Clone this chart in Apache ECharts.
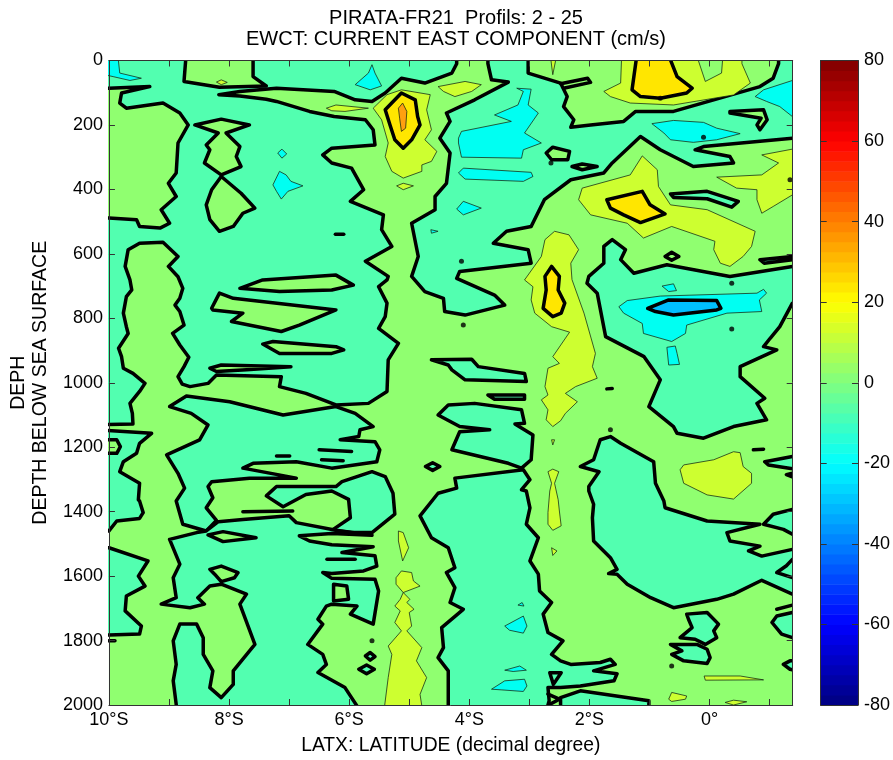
<!DOCTYPE html>
<html><head><meta charset="utf-8">
<style>html,body{margin:0;padding:0;background:#fff}#c{width:893px;height:760px}</style>
<script src="https://cdn.jsdelivr.net/npm/echarts@6/dist/echarts.min.js"></script>
</head><body><div id="c"></div>
<script>
// Latitude (deg, negative = S) and depth (m).
const latTicks = [-10,-8,-6,-4,-2,0];
const depthTicks = [0,200,400,600,800,1000,1200,1400,1600,1800,2000];
const colorbarTicks = [-80,-60,-40,-20,0,20,40,60,80];

// -10..0 cm/s band, outlined by the 0 contour
const band_m10_0 = [
[[-10.2,-30],[-4.21,-30],[-4.21,10],[-4.29,39],[-4.74,70],[-5.13,55],[-5.40,101],[-5.62,127],[-5.90,122],[-6.25,96],[-7.21,86],[-7.82,96],[-8.17,106],[-7.82,110],[-7.38,120],[-7.21,127],[-6.66,158],[-6.25,174],[-5.73,184],[-5.60,215],[-5.57,262],[-6.29,272],[-6.44,293],[-6.29,318],[-5.96,334],[-5.76,401],[-5.98,437],[-5.43,479],[-5.46,525],[-5.29,577],[-5.73,623],[-5.35,670],[-5.37,681],[-5.51,702],[-5.37,753],[-5.40,795],[-5.51,831],[-5.18,878],[-5.35,929],[-5.37,1027],[-5.68,1064],[-6.22,1069],[-6.72,1033],[-7.16,1012],[-7.13,981],[-8.21,976],[-8.35,1002],[-8.65,1012],[-8.78,1004],[-8.85,981],[-8.75,950],[-8.67,921],[-8.82,883],[-8.94,847],[-8.75,821],[-8.82,779],[-8.90,759],[-8.82,738],[-8.77,707],[-8.85,671],[-9.01,639],[-8.85,608],[-9.10,564],[-9.49,567],[-9.68,587],[-9.73,639],[-9.65,681],[-9.62,712],[-9.71,733],[-9.76,784],[-9.71,826],[-9.68,847],[-9.84,893],[-9.79,919],[-9.76,955],[-9.60,971],[-9.40,1002],[-9.49,1027],[-9.65,1064],[-9.61,1095],[-9.60,1128],[-10.2,1130]],
[[-8.71,1041],[-7.99,1059],[-7.10,1100],[-6.22,1074],[-5.90,1095],[-5.60,1136],[-5.82,1146],[-5.84,1167],[-6.15,1177],[-5.57,1183],[-5.49,1208],[-5.54,1245],[-6.29,1265],[-6.88,1245],[-7.60,1250],[-7.77,1265],[-6.88,1296],[-7.66,1296],[-8.29,1307],[-8.35,1322],[-8.27,1357],[-8.38,1388],[-8.21,1427],[-8.38,1460],[-8.77,1439],[-8.88,1367],[-8.74,1327],[-8.85,1281],[-9.04,1224],[-8.49,1177],[-8.35,1131],[-8.63,1095],[-8.99,1074]],
[[-6.12,1307],[-5.62,1276],[-5.40,1291],[-5.27,1343],[-5.24,1408],[-5.62,1465],[-5.96,1465],[-6.29,1458],[-5.98,1419],[-6.01,1362],[-6.29,1336],[-6.72,1347],[-7.10,1385],[-7.38,1351],[-7.21,1322],[-6.72,1322],[-6.22,1322]],
[[-8.99,1486],[-8.54,1465],[-8.38,1460],[-8.18,1431],[-7.77,1424],[-7.00,1413],[-6.88,1434],[-6.22,1458],[-5.62,1473],[-6.29,1468],[-6.83,1475],[-6.66,1491],[-6.29,1503],[-5.60,1509],[-6.12,1527],[-5.57,1537],[-5.54,1569],[-5.76,1584],[-6.29,1592],[-6.44,1589],[-6.29,1607],[-5.57,1610],[-5.51,1646],[-5.60,1749],[-5.98,1718],[-5.87,1693],[-6.29,1687],[-6.38,1693],[-6.52,1734],[-6.44,1749],[-6.69,1812],[-6.44,1843],[-6.38,1874],[-6.52,1899],[-6.22,1930],[-6.07,1946],[-5.87,2003],[-5.87,2030],[-8.88,2030],[-8.88,1998],[-8.93,1925],[-8.88,1874],[-8.93,1801],[-8.82,1749],[-8.54,1749],[-8.43,1791],[-8.43,1843],[-8.27,1894],[-8.32,1946],[-8.13,1977],[-7.93,1936],[-7.93,1894],[-7.57,1812],[-7.82,1687],[-7.71,1656],[-8.13,1625],[-8.32,1631],[-8.52,1667],[-8.41,1687],[-8.65,1698],[-9.13,1687],[-8.88,1667],[-8.93,1605],[-8.82,1563]],
[[-10.2,1146],[-9.29,1157],[-9.49,1188],[-9.54,1219],[-9.76,1245],[-9.82,1276],[-9.49,1312],[-9.51,1363],[-9.49,1367],[-9.43,1403],[-9.49,1421],[-9.87,1429],[-10,1460],[-10.2,1460]],
[[-10.2,1512],[-10,1512],[-9.35,1553],[-9.51,1600],[-9.40,1631],[-9.71,1662],[-9.73,1708],[-9.46,1755],[-9.49,1780],[-10,1783],[-10.2,1783]],
[[-10.2,232],[-9.76,238],[-10.2,245]],
[[-10.2,365],[-9.87,391],[-10.2,411]],
[[-3.69,-30],[-3.69,10],[-3.63,60],[-3.35,67],[-3.91,122],[-4.38,163],[-4.32,189],[-4.49,241],[-4.32,287],[-4.38,381],[-4.57,422],[-4.57,463],[-4.96,505],[-4.85,608],[-4.96,670],[-4.74,717],[-4.43,738],[-4.41,779],[-4.07,790],[-3.41,759],[-3.58,728],[-4.21,676],[-4.16,655],[-2.97,629],[-3.02,587],[-3.60,567],[-3.38,530],[-2.97,515],[-2.75,432],[-2.31,370],[-1.76,349],[-1.62,318],[-1.15,236],[-0.82,277],[-0.27,329],[0.40,318],[0.34,298],[-0.24,277],[-0.10,267],[1.38,241],[1.6,241],[1.6,-30],[1.15,-30],[1.15,10],[1.06,55],[0.84,81],[-0.60,158],[-1.23,158],[-1.43,189],[-1.98,200],[-2.31,207],[-2.26,184],[-2.43,143],[-2.37,112],[-2.48,70],[-3.02,39],[-3.02,-30]],
[[-2.01,670],[-1.76,629],[-1.76,577],[-1.62,556],[-1.40,587],[-1.48,618],[-1.26,660],[-0.71,634],[0.34,670],[1.38,639],[1.6,639],[1.6,750],[1.38,753],[1.17,826],[1.01,862],[0.90,888],[1.12,898],[0.51,950],[0.51,981],[0.92,1048],[0.79,1064],[0.95,1115],[0.40,1136],[-0.10,1172],[-0.54,1157],[-0.60,1136],[-1.01,1074],[-0.82,991],[-1.09,919],[-1.73,857],[-1.87,722],[-2.04,691]],
[[-1.65,1167],[-1.48,1188],[-0.93,1245],[-0.90,1312],[-0.76,1367],[-0.74,1388],[-0.04,1429],[0.84,1439],[0.29,1465],[0.34,1491],[0.84,1507],[0.65,1522],[0.87,1538],[1.38,1517],[1.6,1517],[1.6,1660],[1.38,1656],[0.87,1613],[0.40,1656],[0.12,1672],[-0.60,1698],[-0.98,1667],[-1.37,1625],[-1.54,1594],[-1.68,1592],[-1.54,1579],[-1.65,1543],[-1.93,1491],[-1.95,1419],[-1.93,1377],[-2.01,1336],[-2.01,1322],[-1.84,1276],[-2.15,1260],[-1.93,1239],[-1.82,1177]],
[[0.92,1245],[1.38,1229],[1.6,1229],[1.6,1267],[1.38,1267],[0.98,1255]],
[[1.28,1285],[1.6,1270],[1.6,1307]],
[[1.06,1408],[1.38,1393],[1.6,1393],[1.6,1470],[1.38,1470],[1.23,1455],[0.90,1439]],
[[1.12,1589],[1.28,1568],[1.38,1548],[1.6,1548],[1.6,1605],[1.38,1605],[1.20,1594]],
[[1.04,1744],[1.12,1724],[1.38,1713],[1.6,1713],[1.6,1791],[1.38,1791],[1.20,1780]],
[[1.23,1874],[1.34,1863],[1.6,1863],[1.6,1900],[1.34,1889]],
[[-4.63,929],[-3.96,927],[-3.85,950],[-3.08,971],[-3.05,996],[-4.07,991],[-4.29,960],[-4.35,945]],
[[-3.69,1038],[-3.08,1038],[-3.08,1051],[-3.58,1051]],
[[-4.52,1100],[-4.35,1069],[-3.91,1064],[-3.13,1084],[-3.08,1126],[-3.24,1128],[-2.94,1162],[-2.97,1239],[-3.13,1265],[-3.35,1250],[-4.29,1208],[-4.16,1152],[-3.66,1146],[-4.16,1136]],
[[-3.10,1270],[-4.24,1296],[-4.21,1327],[-4.52,1343],[-4.82,1413],[-4.63,1481],[-4.35,1512],[-4.24,1574],[-4.38,1589],[-4.24,1636],[-4.32,1682],[-4.10,1703],[-4.46,1760],[-4.43,1822],[-4.52,1853],[-4.35,1894],[-4.35,2003],[-4.35,2030],[-2.69,2030],[-2.69,2000],[-2.67,1987],[-2.69,1946],[-2.48,1946],[-2.15,1941],[-1.59,1925],[-1.54,1903],[-1.93,1894],[-1.57,1874],[-1.65,1858],[-1.82,1868],[-2.31,1874],[-2.48,1863],[-2.63,1843],[-2.44,1801],[-2.69,1775],[-2.77,1718],[-2.63,1682],[-2.83,1646],[-2.85,1594],[-2.99,1553],[-2.85,1481],[-3.05,1439],[-2.99,1388],[-3.05,1336],[-3.13,1332],[-2.99,1301]],
[[-2.48,1977],[-2.15,1956],[-1.01,1987],[-1.01,2030],[-2.48,2030]],
[[-0.38,1718],[-0.04,1713],[0.15,1749],[0.07,1770],[0.12,1791],[-0.07,1812],[-0.24,1796],[-0.49,1791],[-0.29,1760],[-0.35,1734]],
[[-0.65,1812],[-0.21,1812],[-0.04,1827],[0.01,1853],[-0.04,1871],[-0.43,1863],[-0.63,1843],[-0.46,1832]],
[[-0.65,414],[-0.04,406],[0.48,437],[0.37,455],[-0.04,429],[-0.60,425]],
[[0.84,618],[1.38,608],[1.38,618],[0.91,629]],
[[-4.73,1260],[-4.61,1248],[-4.49,1260],[-4.61,1272]],
[[-5.73,1848],[-5.65,1837],[-5.57,1850],[-5.65,1861]],
[[-5.84,1889],[-5.71,1876],[-5.58,1889],[-5.71,1903]]
];

// 0..10 cm/s islands surrounded by the -10..0 band
const band_0_10 = [
[[-8.71,-30],[-8.75,65],[-8.16,83],[-7.38,79],[-7.60,50],[-7.60,-30]],
[[-10.2,86],[-10,86],[-9.32,81],[-9.79,101],[-9.82,132],[-9.71,148],[-9.10,132],[-8.82,163],[-8.68,200],[-8.85,256],[-8.88,349],[-9.01,381],[-8.88,422],[-9.13,463],[-8.99,505],[-9.15,520],[-9.49,515],[-9.54,494],[-10,489],[-10.2,489]],
[[-8.57,200],[-8.13,182],[-7.66,200],[-8.05,225],[-7.82,267],[-7.88,298],[-7.80,329],[-8.13,355],[-8.41,318],[-8.32,277],[-8.38,262],[-8.18,225]],
[[-8.13,360],[-7.80,412],[-7.57,458],[-7.77,474],[-7.93,515],[-8.16,530],[-8.32,494],[-8.38,448],[-8.29,401]],
[[-7.82,707],[-7.44,681],[-6.22,666],[-5.93,697],[-6.29,712],[-7.16,717]],
[[-8.29,769],[-8.16,722],[-7.93,738],[-6.22,774],[-6.83,821],[-7.13,841],[-7.96,810],[-7.77,784],[-8.27,774]],
[[-7.44,880],[-7.27,872],[-6.22,888],[-6.09,898],[-6.29,909],[-7.16,909]],
[[-8.32,955],[-8.13,945],[-6.97,950],[-7.71,960],[-8.21,965]],
[[-8.32,1579],[-8.13,1569],[-7.85,1589],[-7.91,1605],[-8.13,1617],[-8.24,1594]],
[[-8.35,1472],[-8.10,1462],[-7.55,1481],[-8.10,1493]],
[[-6.26,1625],[-6.04,1631],[-6.01,1672],[-6.26,1677]],
[[-10.2,1177],[-9.87,1177],[-9.81,1198],[-9.87,1219],[-10.2,1219]],
[[-2.72,287],[-2.61,269],[-2.33,282],[-2.36,308],[-2.63,308]],
[[0.34,158],[0.90,153],[0.96,184],[0.84,215],[0.79,200],[0.86,179],[0.34,163]],
[[-2.29,329],[-2.12,321],[-1.87,329],[-2.12,339]],
[[-0.74,608],[-0.63,595],[-0.51,608],[-0.63,620]]
];
const band_10_20 = [
[[-5.60,148],[-5.37,106],[-5.13,91],[-4.65,106],[-4.71,153],[-4.63,215],[-4.74,246],[-4.54,282],[-4.63,313],[-4.79,324],[-4.79,344],[-5.10,365],[-5.29,344],[-5.40,298],[-5.35,256],[-5.46,184]],
[[-4.52,81],[-4.07,65],[-3.80,75],[-3.96,96],[-4.24,112],[-4.43,96]],
[[-5.21,389],[-5.10,381],[-4.93,389],[-5.10,401]],
[[-6.38,148],[-6.22,138],[-5.68,148],[-6.07,158],[-6.29,156]],
[[-8.21,67],[-8.13,60],[-8.03,68],[-8.13,75]],
[[-2.66,-30],[-2.61,44],[-2.53,-30]],
[[-1.76,96],[-1.48,70],[-1.46,-30],[-0.24,-30],[-0.07,65],[0.20,39],[0.23,-30],[0.54,-30],[0.54,10],[0.68,70],[0.40,107],[-0.60,138],[-1.32,132],[-1.65,112]],
[[-2.18,432],[-2.12,396],[-1.32,355],[-1.12,296],[-0.87,339],[-0.85,391],[-0.65,448],[-0.04,463],[0.76,530],[0.70,577],[0.56,608],[0.34,639],[0.18,629],[0.07,587],[0.09,561],[-0.63,515],[-1.10,551],[-1.37,505],[-1.98,479]],
[[0.12,362],[0.87,355],[1.15,318],[0.87,293],[1.38,275],[1.6,275],[1.6,417],[1.38,417],[1.06,453],[0.87,474],[0.79,432],[0.79,401],[0.45,396]],
[[-2.74,556],[-2.58,530],[-2.34,541],[-2.18,587],[-2.31,629],[-2.29,680],[-2.09,784],[-1.90,909],[-1.95,950],[-1.87,986],[-2.23,1012],[-2.40,1033],[-2.20,1059],[-2.40,1095],[-2.48,1118],[-2.61,1136],[-2.72,1115],[-2.69,1084],[-2.80,1053],[-2.69,1038],[-2.74,1012],[-2.69,955],[-2.50,940],[-2.61,919],[-2.33,843],[-2.63,826],[-2.91,784],[-2.97,743],[-2.94,702],[-3.08,681],[-2.80,608]],
[[-2.63,1177],[-2.58,1177],[-2.61,1193]],
[[-2.69,1276],[-2.61,1268],[-2.51,1276],[-2.58,1312],[-2.52,1363],[-2.50,1398],[-2.47,1444],[-2.61,1458],[-2.69,1439],[-2.69,1403],[-2.66,1336],[-2.63,1312]],
[[-2.63,1512],[-2.54,1522],[-2.61,1536]],
[[-5.18,1460],[-5.10,1465],[-5.01,1512],[-5.11,1553],[-5.18,1491]],
[[-5.22,1605],[-5.13,1584],[-4.96,1589],[-4.93,1615],[-4.82,1631],[-5.10,1651],[-4.99,1672],[-5.04,1682],[-4.92,1703],[-5.00,1713],[-4.96,1755],[-5.04,1770],[-4.79,1822],[-4.88,1863],[-4.71,1915],[-4.82,1967],[-4.79,2003],[-4.79,2030],[-5.41,2030],[-5.41,2003],[-5.35,1915],[-5.29,1843],[-5.35,1817],[-5.13,1770],[-5.24,1744],[-5.15,1708],[-5.24,1693],[-5.15,1672],[-5.10,1651],[-5.22,1625]],
[[-0.49,1270],[-0.43,1255],[0.07,1239],[0.40,1214],[0.51,1217],[0.56,1260],[0.70,1281],[0.70,1312],[0.40,1361],[-0.04,1348],[-0.43,1312]],
[[-0.68,1982],[-0.63,1961],[-0.38,1972],[-0.40,1982],[-0.63,1989]],
[[0.26,1992],[0.40,1985],[0.62,1990],[0.40,2000]],
[[-0.09,1910],[0.51,1910],[0.90,1922],[-0.07,1923]]
];
const band_20_30 = [
[[-5.40,153],[-5.13,101],[-4.90,122],[-4.86,174],[-4.82,200],[-4.96,246],[-5.10,272],[-5.24,246],[-5.32,200]],
[[-1.20,-30],[-1.29,91],[-1.15,112],[-0.82,117],[-0.38,101],[-0.29,86],[-0.54,50],[-0.71,-30]],
[[-1.71,432],[-1.12,406],[-0.99,448],[-0.74,476],[-1.15,503],[-1.43,479],[-1.65,458]],
[[-2.74,670],[-2.63,639],[-2.50,670],[-2.52,712],[-2.41,753],[-2.47,784],[-2.61,795],[-2.77,769],[-2.72,712]]
];
const band_30_40 = [
[[-5.18,148],[-5.11,132],[-5.04,158],[-5.06,210],[-5.13,220],[-5.16,179]]
];
const band_m20_m10 = [
[[-10.2,-30],[-9.86,-30],[-9.82,39],[-9.46,55],[-9.65,62],[-9.93,50],[-10.2,39]],
[[-5.90,75],[-5.68,39],[-5.62,13],[-5.57,39],[-5.46,79],[-5.65,91]],
[[-7.27,386],[-7.16,344],[-7.05,355],[-6.97,375],[-6.77,389],[-7.02,406],[-7.13,430],[-7.21,406]],
[[-7.19,287],[-7.12,275],[-7.04,290],[-7.12,303]],
[[-4.18,241],[-4.13,220],[-3.30,189],[-3.58,169],[-3.19,138],[-3.10,96],[-3.21,86],[-2.97,89],[-3.02,138],[-2.85,163],[-3.08,225],[-2.80,256],[-3.10,277],[-3.13,303],[-4.13,300],[-4.18,256]],
[[-4.18,349],[-4.10,334],[-2.97,347],[-2.94,360],[-3.10,375],[-4.07,368]],
[[-4.21,461],[-4.10,437],[-3.80,458],[-4.10,479]],
[[-4.64,525],[-4.52,530],[-4.63,536]],
[[-0.96,196],[-0.60,186],[-0.10,192],[0.12,210],[0.51,227],[0.12,246],[-0.27,254],[-0.65,246],[-0.76,225]],
[[0.76,112],[0.90,91],[1.38,62],[1.6,62],[1.6,174],[1.38,174],[1.17,143],[0.95,127]],
[[-1.51,764],[-1.37,745],[-0.82,731],[0.79,722],[0.90,710],[0.95,722],[0.83,743],[0.87,779],[0.29,784],[-0.38,821],[-0.40,847],[-0.63,872],[-1.10,847],[-1.12,816],[-1.43,784]],
[[-0.79,700],[-0.60,693],[-0.55,714],[-0.68,717]],
[[-0.71,890],[-0.57,886],[-0.54,909],[-0.50,943],[-0.68,945]],
[[-3.19,1690],[-3.12,1682],[-3.09,1693]],
[[-3.41,1755],[-3.10,1724],[-3.04,1755],[-3.10,1777],[-3.33,1768]],
[[-3.41,1892],[-3.16,1879],[-3.05,1892],[-3.27,1896]],
[[-3.63,1951],[-3.41,1925],[-3.08,1920],[-3.04,1941],[-3.10,1958],[-3.47,1953]]
];
const band_m30_m20 = [
[[-1.03,769],[-0.68,743],[0.12,745],[0.19,769],[0.12,774],[-0.60,790],[-0.90,779]]
];
// Very narrow closed parts of the 0 contour that read as thick strokes
const zeroStreaks = [
[[-7.21,1227],[-6.99,1227]],
[[-6.50,1208],[-5.96,1213]],
[[-6.46,1239],[-6.10,1242]],
[[-7.77,1400],[-6.94,1398]],
[[-6.37,1548],[-5.90,1548]],
[[-10,1801],[-9.90,1801]],
[[-2.48,72],[-2.03,55],[-1.98,68],[-2.43,86]],
[[-2.66,1900],[-2.60,1936],[-2.47,1900],[-2.66,1900]],
[[-2.69,1966],[-2.50,1982],[-2.66,1998]],
[[1.12,1703],[1.38,1690]],
[[-1.71,1019],[-1.62,1018]],
[[0.73,1208],[0.90,1206]],
[[-6.23,539],[-6.09,539]]
];
const zeroSpots = [[-4.13,623],[-4.10,821],[-2.64,318],[0.37,691],[0.37,833],[-1.65,1146],[-0.63,1879],[-5.62,1801],[-0.10,238],[1.34,370],[-0.82,117]];

const bandColors = {m30:'#00BFFF', m20:'#00FFF2', m10:'#52FFB0', p0:'#90FF70', p10:'#CDFF30', p20:'#FFE600', p30:'#FF9F10'};
const FONT = '"Liberation Sans", Arial, sans-serif';

function polySeries(regions, fill, stroke, width){
  return {
    type:'custom', xAxisIndex:0, yAxisIndex:0, clip:true, silent:true,
    data: regions.map(r=>r[0]),
    renderItem:(params, api)=>({
      type:'polygon',
      shape:{points: regions[params.dataIndex].map(p=>api.coord(p))},
      style:{fill:fill, stroke:stroke, lineWidth:width, lineJoin:'round'}
    })
  };
}
function lineSeries(lines, stroke, width){
  return {
    type:'custom', xAxisIndex:0, yAxisIndex:0, clip:true, silent:true,
    data: lines.map(r=>r[0]),
    renderItem:(params, api)=>({
      type:'polyline',
      shape:{points: lines[params.dataIndex].map(p=>api.coord(p))},
      style:{fill:null, stroke:stroke, lineWidth:width, lineJoin:'round', lineCap:'round'}
    })
  };
}
function jet(x){
  const c=v=>Math.round(255*Math.max(0,Math.min(1,v)));
  return 'rgb('+c(Math.min(4*x-1.5,-4*x+4.5))+','+c(Math.min(4*x-.5,-4*x+3.5))+','+c(Math.min(4*x+.5,-4*x+2.5))+')';
}
const colorbarBins = Array.from({length:64},(_,i)=>i);

const THICK=3.5, THIN=0.9, THINC='rgba(20,40,20,0.85)';
const tickBase = {show:true, inside:true, length:6, lineStyle:{color:'#333',width:1}};
const lineBase = {show:true, onZero:false, lineStyle:{color:'#333',width:1}};
const latLabel = v => latTicks.includes(v) ? (v<0 ? (-v)+'°S' : v>0 ? v+'°N' : '0°') : '';

const option = {
  animation:false,
  backgroundColor:'#fff',
  title:{
    text:'PIRATA-FR21  Profils: 2 - 25\nEWCT: CURRENT EAST COMPONENT (cm/s)',
    left:451, top:3, textAlign:'center',
    textStyle:{fontFamily:FONT,fontWeight:'normal',fontSize:20,lineHeight:21,color:'#000'}
  },
  grid:[
    {left:107.3, top:60.5, width:685.4, height:644.5, show:true, backgroundColor:bandColors.p0, borderWidth:0},
    {left:820.7, top:60.5, width:37.3, height:644.5, show:false}
  ],
  xAxis:[
    {type:'value',gridIndex:0,position:'bottom',min:-10,max:1.385,interval:1,z:10,
     axisLine:lineBase,axisTick:tickBase,splitLine:{show:false},
     axisLabel:{formatter:latLabel,color:'#000',fontFamily:FONT,fontSize:18,margin:6,hideOverlap:false,showMaxLabel:false},
     name:'LATX: LATITUDE (decimal degree)',nameLocation:'middle',nameGap:31,
     nameTextStyle:{color:'#000',fontFamily:FONT,fontSize:19.3}},
    {type:'value',gridIndex:0,position:'top',min:-10,max:1.385,interval:1,z:10,
     axisLine:lineBase,axisTick:tickBase,axisLabel:{show:false},splitLine:{show:false}},
    {type:'value',gridIndex:1,position:'bottom',min:0,max:1,z:10,
     axisLine:lineBase,axisTick:{show:false},axisLabel:{show:false},splitLine:{show:false}},
    {type:'value',gridIndex:1,position:'top',min:0,max:1,z:10,
     axisLine:lineBase,axisTick:{show:false},axisLabel:{show:false},splitLine:{show:false}}
  ],
  yAxis:[
    {type:'value',gridIndex:0,position:'left',inverse:true,min:0,max:2000,interval:200,z:10,
     axisLine:lineBase,axisTick:tickBase,splitLine:{show:false},
     axisLabel:{color:'#000',fontFamily:FONT,fontSize:18,margin:6,
       formatter:v=>depthTicks.includes(v)?String(v):''},
     name:'DEPH\nDEPTH BELOW SEA SURFACE',nameLocation:'middle',nameRotate:90,nameGap:54,
     nameTextStyle:{color:'#000',fontFamily:FONT,fontSize:19.5,lineHeight:22}},
    {type:'value',gridIndex:0,position:'right',inverse:true,min:0,max:2000,interval:200,z:10,
     axisLine:lineBase,axisTick:tickBase,axisLabel:{show:false},splitLine:{show:false}},
    {type:'value',gridIndex:1,position:'left',min:-80,max:80,interval:20,z:10,
     axisLine:lineBase,axisTick:tickBase,axisLabel:{show:false},splitLine:{show:false}},
    {type:'value',gridIndex:1,position:'right',min:-80,max:80,interval:20,z:10,
     axisLine:lineBase,axisTick:tickBase,splitLine:{show:false},
     axisLabel:{color:'#000',fontFamily:FONT,fontSize:18,margin:6,
       formatter:v=>colorbarTicks.includes(v)?String(v):''}}
  ],
  series:[
    polySeries(band_m10_0, bandColors.m10, '#000', THICK),
    polySeries(band_0_10, bandColors.p0, '#000', THICK),
    polySeries(band_10_20, bandColors.p10, THINC, THIN),
    polySeries(band_20_30, bandColors.p20, '#000', THICK),
    polySeries(band_30_40, bandColors.p30, THINC, THIN),
    polySeries(band_m20_m10, bandColors.m20, THINC, THIN),
    polySeries(band_m30_m20, bandColors.m30, '#000', THICK),
    lineSeries(zeroStreaks, '#000', THICK),
    {type:'scatter',xAxisIndex:0,yAxisIndex:0,data:zeroSpots,symbol:'circle',symbolSize:5,
     itemStyle:{color:'#000'},silent:true,clip:true},
    {type:'custom',xAxisIndex:2,yAxisIndex:2,silent:true,
     data:colorbarBins.map(i=>[0,-80+i*2.5]),
     renderItem:(params,api)=>{
       const i=params.dataIndex;
       const a=api.coord([0,-80+i*2.5]), b=api.coord([1,-80+(i+1)*2.5]);
       return {type:'rect',shape:{x:a[0],y:b[1],width:b[0]-a[0],height:a[1]-b[1]+0.5},
               style:{fill:jet((i+0.5)/64)}};
     }}
  ]
};
const chart = echarts.init(document.getElementById('c'),null,{renderer:'canvas'});
chart.setOption(option);
</script></body></html>
